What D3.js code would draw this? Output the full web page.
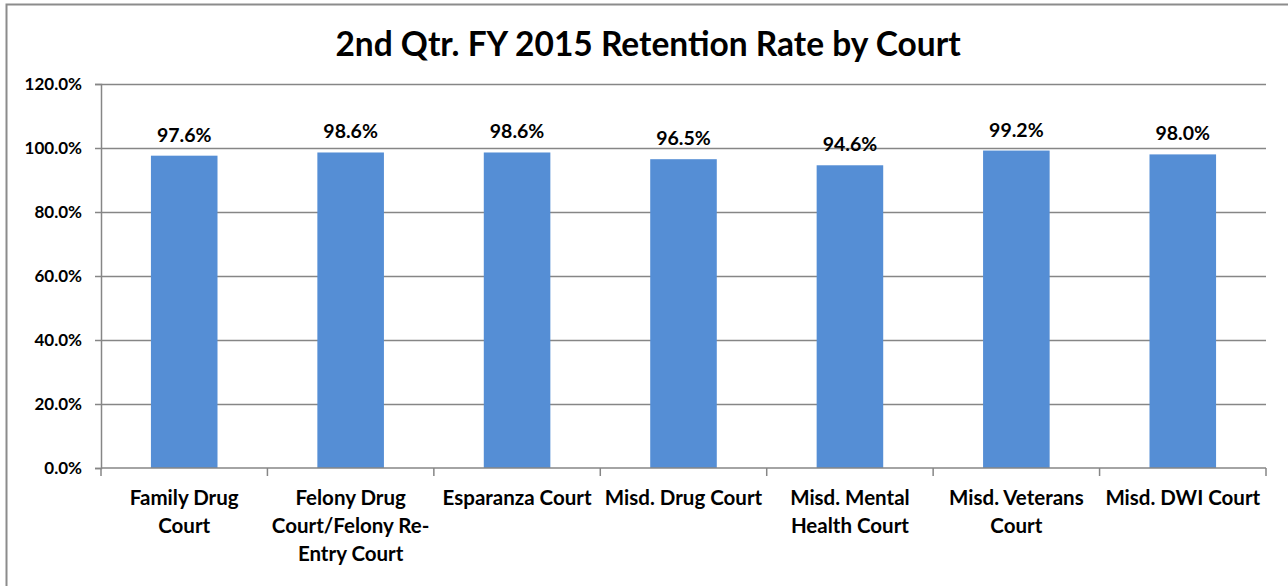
<!DOCTYPE html>
<html>
<head>
<meta charset="utf-8">
<script src="https://cdn.jsdelivr.net/npm/d3@7"></script>
<style>
  body { margin: 0; background: #fff; }
  text { font-family: Lato, "Open Sans", sans-serif; font-weight: bold; fill: #000; }
</style>
</head>
<body>
<div id="chart"></div>
<script>
var courts = [
  ["Family Drug", "Court"],
  ["Felony Drug", "Court/Felony Re-", "Entry Court"],
  ["Esparanza Court"],
  ["Misd. Drug Court"],
  ["Misd. Mental", "Health Court"],
  ["Misd. Veterans", "Court"],
  ["Misd. DWI Court"]
];
var rates = [97.6, 98.6, 98.6, 96.5, 94.6, 99.2, 98.0];
var yTicks = [0, 20, 40, 60, 80, 100, 120];
var title = "2nd Qtr. FY 2015 Retention Rate by Court";

var width = 1288, height = 586;
var margin = {left: 101, right: 22, top: 84, bottom: 118};

var svg = d3.select("#chart").append("svg")
    .attr("width", width)
    .attr("height", height);

// chart border
svg.append("rect")
    .attr("x", 6.5).attr("y", 4.5)
    .attr("width", width + 10).attr("height", height + 10)
    .attr("fill", "none")
    .attr("stroke", "#8c8c8c")
    .attr("stroke-width", 2);

svg.append("text")
    .attr("x", 648).attr("y", 56)
    .attr("text-anchor", "middle")
    .style("font-size", "33.5px")
    .text(title);

var x = d3.scaleBand()
    .domain(d3.range(courts.length))
    .range([margin.left, width - margin.right])
    .paddingInner(0.6)
    .paddingOuter(0.3);

var y = d3.scaleLinear()
    .domain([0, 120])
    .range([height - margin.bottom, margin.top]);

// gridlines
svg.append("g")
    .selectAll("line")
    .data(yTicks.filter(d => d > 0))
    .join("line")
    .attr("x1", margin.left).attr("x2", width - margin.right)
    .attr("y1", d => Math.round(y(d)) + 0.5).attr("y2", d => Math.round(y(d)) + 0.5)
    .attr("stroke", "#868686")
    .attr("stroke-width", 1.5);

// bars
svg.append("g")
    .selectAll("rect")
    .data(rates)
    .join("rect")
    .attr("x", (d, i) => x(i))
    .attr("width", x.bandwidth())
    .attr("y", d => y(d))
    .attr("height", d => y(0) - y(d))
    .attr("fill", "#558ed5");

// data labels
svg.append("g")
    .selectAll("text")
    .data(rates)
    .join("text")
    .attr("x", (d, i) => x(i) + x.bandwidth() / 2)
    .attr("y", d => y(d) - 14)
    .attr("text-anchor", "middle")
    .style("font-size", "19.5px")
    .text(d => d.toFixed(1) + "%");

// y axis
var yAxis = d3.axisLeft(y)
    .tickValues(yTicks)
    .tickSize(6)
    .tickFormat(d => d.toFixed(1) + "%");

var gy = svg.append("g")
    .attr("transform", "translate(" + margin.left + ",0)")
    .call(yAxis);
gy.select(".domain").attr("stroke", "#868686").attr("stroke-width", 1.5);
gy.selectAll(".tick line").attr("stroke", "#868686").attr("stroke-width", 1.5);
gy.selectAll(".tick text")
    .attr("x", -19)
    .attr("dy", "0.35em")
    .style("font-size", "17px")
    .style("font-family", "Lato, sans-serif");

// x axis
var step = (width - margin.right - margin.left) / courts.length;
var gx = svg.append("g")
    .attr("transform", "translate(0," + y(0) + ")");
gx.append("line")
    .attr("x1", margin.left).attr("x2", width - margin.right)
    .attr("stroke", "#868686").attr("stroke-width", 1.5);
gx.selectAll(".xtick")
    .data(d3.range(courts.length + 1))
    .join("line")
    .attr("class", "xtick")
    .attr("x1", d => margin.left + d * step).attr("x2", d => margin.left + d * step)
    .attr("y1", 0).attr("y2", 8)
    .attr("stroke", "#868686").attr("stroke-width", 1.5);

var labels = gx.selectAll(".xlab")
    .data(courts)
    .join("text")
    .attr("class", "xlab")
    .attr("text-anchor", "middle")
    .style("font-size", "20.5px");
labels.selectAll("tspan")
    .data((d, i) => d.map(s => ({s: s, i: i})))
    .join("tspan")
    .attr("x", d => x(d.i) + x.bandwidth() / 2)
    .attr("y", (d, j) => 37 + j * 28)
    .text(d => d.s);
</script>
</body>
</html>
